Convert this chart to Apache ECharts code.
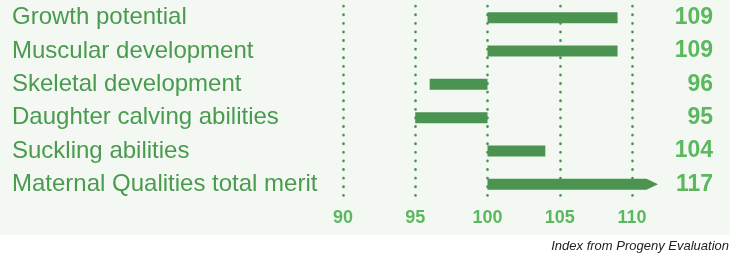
<!DOCTYPE html>
<html>
<head>
<meta charset="utf-8">
<style>
  html, body { margin: 0; padding: 0; background: #fff; }
  #chart { width: 742px; height: 257px; }
</style>
<script src="https://cdn.jsdelivr.net/npm/echarts@6/dist/echarts.min.js"></script>
</head>
<body>
<div id="chart"></div>
<script>
const traits = [
  "Growth potential",
  "Muscular development",
  "Skeletal development",
  "Daughter calving abilities",
  "Suckling abilities",
  "Maternal Qualities total merit"
];
const indexValues = [109, 109, 96, 95, 104, 117];
const baseValue = 100;
const tickValues = [90, 95, 100, 105, 110];

// bars longer than the axis are cut here and get an arrow head
const capValue = 111;
const arrowTip = 111.8;

const chart = echarts.init(document.getElementById("chart"));

const barColor = "#4a9350";
const textColor = "#4a9a50";
const valueColor = "#5cb85f";

const option = {
  animation: false,
  textStyle: { fontFamily: "Liberation Sans, Arial, sans-serif" },
  graphic: [
    {
      type: "rect",
      z: -10,
      shape: { x: 0, y: 0, width: 730, height: 235 },
      style: { fill: "#f3f8f2" }
    },
    {
      type: "text",
      right: 13,
      top: 240,
      style: {
        text: "Index from Progeny Evaluation",
        font: "italic 13px Liberation Sans, Arial, sans-serif",
        fill: "#222"
      }
    }
  ],
  grid: { left: 343, right: 110, top: 1, bottom: 56 },
  xAxis: {
    type: "value",
    min: tickValues[0],
    max: tickValues[tickValues.length - 1],
    interval: 5,
    axisLine: { show: false },
    axisTick: { show: false },
    splitLine: {
      show: true,
      lineStyle: { color: barColor, width: 2.6, type: [0.3, 8.3], cap: "round", dashOffset: -5 }
    },
    axisLabel: {
      margin: 8,
      color: valueColor,
      fontSize: 18,
      fontWeight: "bold"
    }
  },
  yAxis: [
    {
      type: "category",
      data: traits,
      inverse: true,
      axisLine: { show: false },
      axisTick: { show: false },
      splitLine: { show: false },
      axisLabel: {
        align: "left",
        margin: 331,
        color: textColor,
        fontSize: 24
      }
    },
    {
      type: "category",
      position: "right",
      data: indexValues.map(String),
      inverse: true,
      axisLine: { show: false },
      axisTick: { show: false },
      splitLine: { show: false },
      axisLabel: {
        align: "right",
        margin: 81,
        color: valueColor,
        fontSize: 23,
        fontWeight: "bold"
      }
    }
  ],
  series: [
    {
      type: "custom",
      clip: false,
      data: indexValues.map((v, i) => [i, v]),
      renderItem: function (params, api) {
        const idx = api.value(0);
        const v = api.value(1);
        const h = api.size([0, 1])[1] * 0.33;
        const p0 = api.coord([baseValue, idx]);
        const end = Math.min(v, capValue);
        const p1 = api.coord([end, idx]);
        const y = p0[1] - h / 2;
        if (v > capValue) {
          const tip = api.coord([arrowTip, idx]);
          return {
            type: "polygon",
            shape: {
              points: [
                [p0[0], y], [p1[0], y], [tip[0], p0[1]],
                [p1[0], y + h], [p0[0], y + h]
              ]
            },
            style: { fill: barColor }
          };
        }
        const x = Math.min(p0[0], p1[0]);
        return {
          type: "rect",
          shape: { x: x, y: y, width: Math.abs(p1[0] - p0[0]), height: h },
          style: { fill: barColor }
        };
      }
    }
  ]
};

chart.setOption(option);
window.addEventListener("resize", () => chart.resize());
</script>
</body>
</html>
